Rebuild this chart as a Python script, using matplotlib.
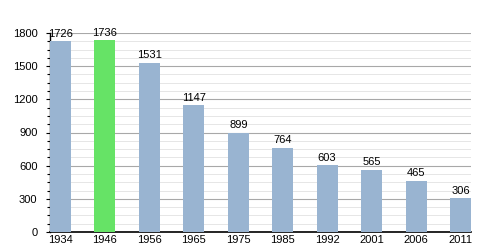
import matplotlib
matplotlib.use("Agg")
import matplotlib.pyplot as plt
from matplotlib.ticker import MultipleLocator

years = ["1934", "1946", "1956", "1965", "1975", "1985", "1992", "2001", "2006", "2011"]
population = [1726, 1736, 1531, 1147, 899, 764, 603, 565, 465, 306]
highlight = "1946"

plt.rcParams['font.family'] = ['Liberation Sans', 'DejaVu Sans']

fig = plt.figure(figsize=(5, 2.5), dpi=100)
ax = fig.add_axes([0.1, 0.072, 0.842, 0.796])

w = 0.47
x = list(range(len(years)))
colors = ["#66e366" if y == highlight else "#99b4d1" for y in years]
ax.bar(x, population, width=w, color=colors, zorder=3)
for xi, v in zip(x, population):
    ax.text(xi, v + 22, str(v), ha="center", va="bottom", fontsize=8, zorder=4)

ax.set_xlim(-w / 2, len(years) - 1 + w / 2)
ax.set_ylim(0, 1800)
ax.set_xticks(x)
ax.set_xticklabels(years, fontsize=8)
ax.yaxis.set_major_locator(MultipleLocator(300))
ax.yaxis.set_minor_locator(MultipleLocator(75))
ax.tick_params(axis="y", which="major", length=3, width=0.8, labelsize=8, pad=6)
ax.tick_params(axis="y", which="minor", length=2, width=0.8)
ax.tick_params(axis="x", length=0, pad=2)
ax.grid(axis="y", which="major", color="#a8a8a8", linewidth=0.8, zorder=1)
ax.grid(axis="y", which="minor", color="#e6e6e6", linewidth=0.7, zorder=1)
for s in ["top", "right"]:
    ax.spines[s].set_visible(False)
ax.spines["left"].set_linewidth(1.0)
ax.spines["bottom"].set_linewidth(1.2)
ax.set_axisbelow(True)

fig.savefig("out.png", dpi=100)
